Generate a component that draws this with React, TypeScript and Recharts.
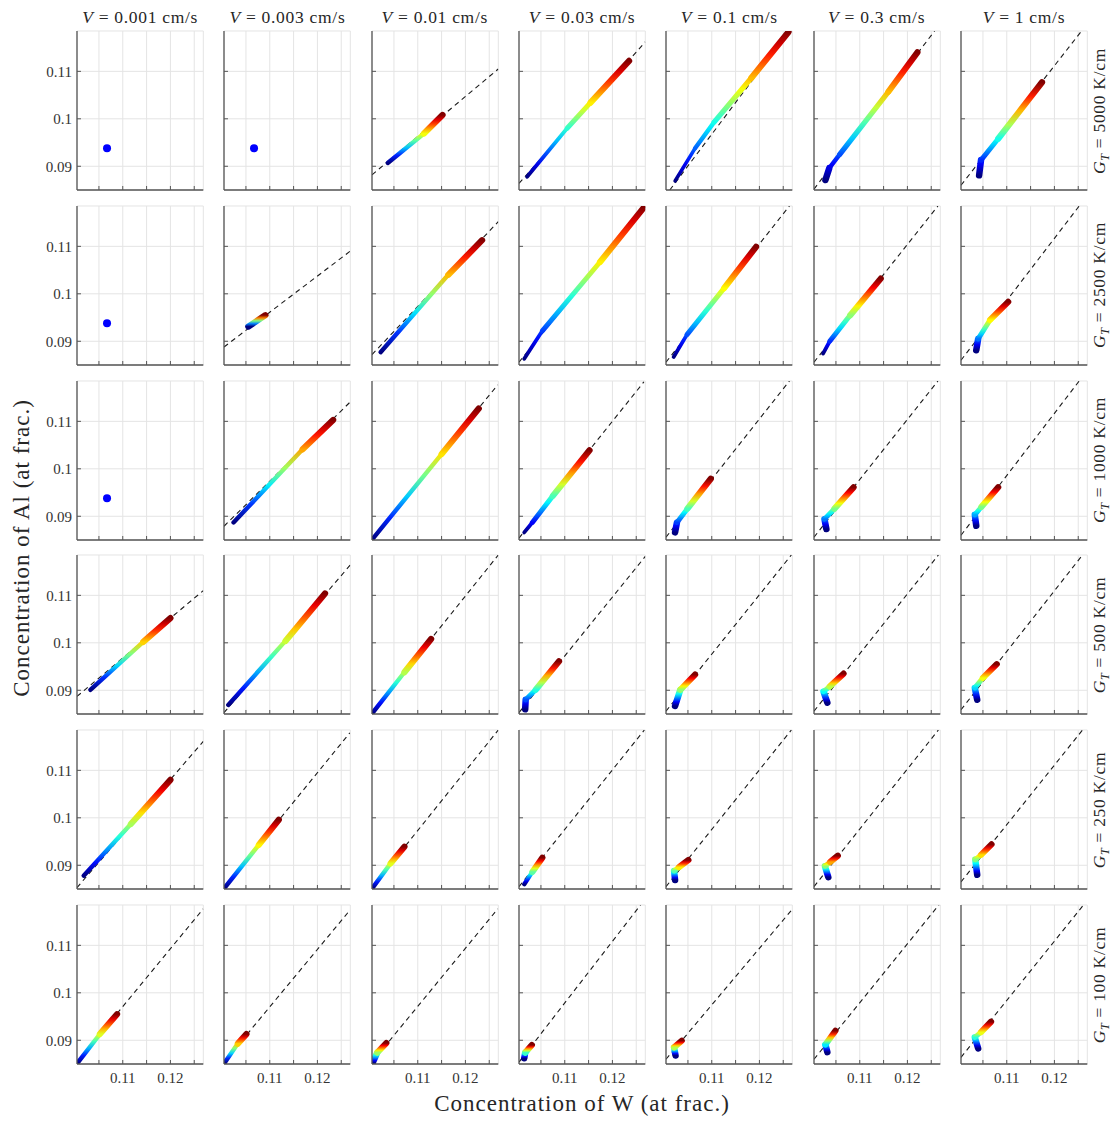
import React from "react";
import { ComposedChart, Line, Scatter, XAxis, YAxis, CartesianGrid } from "recharts";

type Pt = [number, number];

const velocities = ["0.001", "0.003", "0.01", "0.03", "0.1", "0.3", "1"];
const gradients = ["5000", "2500", "1000", "500", "250", "100"];
const xTicks = [0.105, 0.11, 0.115, 0.12, 0.125];
const xTickLabels = ["", "0.11", "", "0.12", ""];
const yTicks = [0.09, 0.1, 0.11];
const yTickLabels = ["0.09", "0.1", "0.11"];
const xDomain: [number, number] = [0.1004, 0.1269];
const yDomain: [number, number] = [0.085, 0.1185];

// dashed fit lines, one per panel (start, end), null where there is none
const fit5000: (Pt[] | null)[] = [
  null,
  null,
  [[0.1004, 0.0882], [0.1269, 0.1105]],
  [[0.1004, 0.0864], [0.1269, 0.1162]],
  [[0.1012, 0.085], [0.1263, 0.1185]],
  [[0.1004, 0.0852], [0.1257, 0.1185]],
  [[0.1004, 0.086], [0.1257, 0.1185]],
];
const fit2500: (Pt[] | null)[] = [
  null,
  [[0.1004, 0.0888], [0.1269, 0.109]],
  [[0.1004, 0.0872], [0.1269, 0.1152]],
  [[0.1004, 0.0856], [0.1269, 0.1183]],
  [[0.1004, 0.0856], [0.1263, 0.1185]],
  [[0.1004, 0.0856], [0.1264, 0.1185]],
  [[0.1004, 0.086], [0.1252, 0.1185]],
];
const fit1000: (Pt[] | null)[] = [
  null,
  [[0.1004, 0.0879], [0.1269, 0.1141]],
  [[0.1004, 0.0854], [0.1268, 0.1177]],
  [[0.1004, 0.0854], [0.1266, 0.1183]],
  [[0.1004, 0.0856], [0.1263, 0.1185]],
  [[0.1004, 0.0856], [0.1264, 0.1185]],
  [[0.1004, 0.086], [0.1252, 0.1185]],
];
const fit500: (Pt[] | null)[] = [
  [[0.1004, 0.0887], [0.1269, 0.111]],
  [[0.1004, 0.0853], [0.1269, 0.1164]],
  [[0.1004, 0.0853], [0.1269, 0.1185]],
  [[0.1004, 0.0853], [0.1269, 0.1182]],
  [[0.1004, 0.0856], [0.1267, 0.1185]],
  [[0.1004, 0.0856], [0.1265, 0.1185]],
  [[0.1004, 0.0859], [0.1259, 0.1185]],
];
const fit250: (Pt[] | null)[] = [
  [[0.1004, 0.0853], [0.1269, 0.1161]],
  [[0.1004, 0.0853], [0.1268, 0.1179]],
  [[0.1004, 0.0853], [0.1269, 0.1185]],
  [[0.1004, 0.0855], [0.1267, 0.1185]],
  [[0.1004, 0.0855], [0.1267, 0.1185]],
  [[0.1004, 0.0855], [0.1265, 0.1185]],
  [[0.1004, 0.0865], [0.1259, 0.1185]],
];
const fit100: (Pt[] | null)[] = [
  [[0.1004, 0.0854], [0.1269, 0.1177]],
  [[0.1004, 0.0854], [0.1269, 0.1175]],
  [[0.1004, 0.0854], [0.1268, 0.1177]],
  [[0.1004, 0.0854], [0.1259, 0.1185]],
  [[0.1004, 0.086], [0.1269, 0.1176]],
  [[0.1004, 0.086], [0.1266, 0.1185]],
  [[0.1004, 0.0864], [0.1261, 0.1185]],
];

// coloured point clouds, traced from the blue end to the red end
const streak5000: Pt[][] = [
  [[0.1067, 0.0938]],
  [[0.1067, 0.0938]],
  [[0.1037, 0.0907], [0.1113, 0.0969], [0.1152, 0.1008]],
  [[0.1021, 0.0878], [0.1105, 0.098], [0.1154, 0.1034], [0.1235, 0.1122]],
  [[0.1023, 0.0869], [0.1065, 0.0938], [0.1105, 0.0993], [0.1183, 0.1086], [0.1261, 0.1183]],
  [[0.1028, 0.0871], [0.1036, 0.0896], [0.1058, 0.0925], [0.116, 0.1057], [0.1221, 0.114]],
  [[0.1042, 0.0881], [0.1046, 0.0913], [0.1082, 0.0958], [0.1174, 0.1077]],
];
const streak2500: Pt[][] = [
  [[0.1067, 0.0938]],
  [[0.1055, 0.0931], [0.1091, 0.0955]],
  [[0.1022, 0.0877], [0.1164, 0.104], [0.1235, 0.1113]],
  [[0.1015, 0.0863], [0.1053, 0.0922], [0.1174, 0.1067], [0.1267, 0.1183]],
  [[0.102, 0.0867], [0.1048, 0.0914], [0.1126, 0.1012], [0.1193, 0.1099]],
  [[0.1023, 0.0874], [0.1037, 0.09], [0.108, 0.0955], [0.1144, 0.1032]],
  [[0.1036, 0.0881], [0.104, 0.0905], [0.1065, 0.0945], [0.1103, 0.0983]],
];
const streak1000: Pt[][] = [
  [[0.1067, 0.0938]],
  [[0.1024, 0.0887], [0.1169, 0.1041], [0.1233, 0.1103]],
  [[0.1005, 0.0852], [0.115, 0.1031], [0.1228, 0.1127]],
  [[0.1015, 0.0866], [0.1032, 0.0887], [0.1075, 0.0943], [0.1152, 0.1039]],
  [[0.1023, 0.0866], [0.1027, 0.0887], [0.1049, 0.0916], [0.1098, 0.0979]],
  [[0.103, 0.0873], [0.1026, 0.0894], [0.1047, 0.0916], [0.1087, 0.0961]],
  [[0.1036, 0.088], [0.1033, 0.0903], [0.1047, 0.092], [0.1082, 0.0961]],
];
const streak500: Pt[][] = [
  [[0.1032, 0.0901], [0.1143, 0.1002], [0.12, 0.1052]],
  [[0.1013, 0.0869], [0.1133, 0.1004], [0.1216, 0.1104]],
  [[0.1005, 0.0852], [0.1072, 0.0938], [0.1128, 0.1008]],
  [[0.1017, 0.086], [0.1018, 0.088], [0.1039, 0.0901], [0.1088, 0.0961]],
  [[0.1023, 0.0867], [0.1034, 0.0901], [0.1065, 0.0933]],
  [[0.1032, 0.0874], [0.1024, 0.0897], [0.1037, 0.0908], [0.1066, 0.0935]],
  [[0.1038, 0.088], [0.1033, 0.0905], [0.105, 0.0926], [0.1079, 0.0955]],
];
const streak250: Pt[][] = [
  [[0.1018, 0.0878], [0.1117, 0.0987], [0.12, 0.108]],
  [[0.1005, 0.0852], [0.1077, 0.0943], [0.1119, 0.0996]],
  [[0.1005, 0.0852], [0.1043, 0.0904], [0.1072, 0.0939]],
  [[0.1015, 0.086], [0.1032, 0.0886], [0.1053, 0.0916]],
  [[0.1023, 0.0869], [0.1021, 0.0888], [0.1031, 0.0896], [0.1051, 0.0911]],
  [[0.1034, 0.0875], [0.1027, 0.0898], [0.1038, 0.0907], [0.1054, 0.092]],
  [[0.1038, 0.088], [0.1034, 0.0912], [0.1046, 0.0922], [0.1068, 0.0944]],
];
const streak100: Pt[][] = [
  [[0.1005, 0.0852], [0.1052, 0.0913], [0.1088, 0.0955]],
  [[0.1005, 0.0852], [0.1033, 0.0893], [0.1051, 0.0913]],
  [[0.1005, 0.0852], [0.1015, 0.0874], [0.1034, 0.0894]],
  [[0.1015, 0.0862], [0.1017, 0.0874], [0.1031, 0.089]],
  [[0.1024, 0.0868], [0.1021, 0.0885], [0.1037, 0.0899]],
  [[0.1032, 0.0875], [0.1028, 0.0891], [0.1049, 0.092]],
  [[0.104, 0.0883], [0.1033, 0.0906], [0.1046, 0.0917], [0.1067, 0.0939]],
];

const fitRows = [fit5000, fit2500, fit1000, fit500, fit250, fit100];
const streakRows = [streak5000, streak2500, streak1000, streak500, streak250, streak100];

// layout (pixels)
const PLOT_L = 77;
const COL_STEP = 147.3;
const PLOT_T = 31;
const ROW_STEP = 174.8;
const PW = 126.3;
const PH = 159;
const AX_W = 40;
const AX_H = 25;
const M = 6;

const FONT = '"Liberation Serif", "DejaVu Serif", serif';
const AXIS = "#555";

function jet(t: number) {
  const c = (v: number) => Math.round(255 * Math.max(0, Math.min(1, v)));
  return `rgb(${c(1.5 - Math.abs(4 * t - 3))},${c(1.5 - Math.abs(4 * t - 2))},${c(1.5 - Math.abs(4 * t - 1))})`;
}

function Panel({ r, c }: { r: number; c: number }) {
  const fit = fitRows[r][c];
  const streak = streakRows[r][c];
  const lastCol = c === velocities.length - 1;
  const firstRow = r === 0;
  const bottomRow = r === gradients.length - 1;
  const yLo = streak[0][1];
  const yHi = streak[streak.length - 1][1];
  const nSeg = streak.length - 1;

  const segs = [];
  for (let i = 0; i < nSeg; i++) {
    const a = streak[i];
    const b = streak[i + 1];
    const t0 = (a[1] - yLo) / (yHi - yLo);
    const t1 = (b[1] - yLo) / (yHi - yLo);
    const steep = Math.abs(b[0] - a[0]) < 0.5 * (b[1] - a[1]);
    // blobs at the blue end are wide, the rest widens towards the red end
    const w = steep && i === 0 ? 6.5 : 2.6 + (3.6 * (i + 1)) / nSeg;
    segs.push({ id: `g${r}-${c}-${i}`, t0, t1, w, data: [{ x: a[0], y: a[1] }, { x: b[0], y: b[1] }] });
  }

  const tickStyle = { fontSize: 15, fill: "#333", fontFamily: FONT };

  return (
    <div style={{ position: "absolute", left: PLOT_L + COL_STEP * c - AX_W, top: PLOT_T + ROW_STEP * r - M }}>
      <ComposedChart
        width={AX_W + PW + M}
        height={M + PH + AX_H}
        margin={{ top: M, right: M, left: 0, bottom: 0 }}
        style={{ fontFamily: FONT }}
      >
        <defs>
          {segs.map((s) => (
            <linearGradient key={s.id} id={s.id} x1="0" y1="1" x2="0" y2="0">
              {[0, 0.25, 0.5, 0.75, 1].map((k) => (
                <stop key={k} offset={k} stopColor={jet(s.t0 + (s.t1 - s.t0) * k)} />
              ))}
            </linearGradient>
          ))}
        </defs>
        <CartesianGrid stroke="#e4e4e4" strokeWidth={1} />
        <XAxis
          type="number"
          dataKey="x"
          domain={xDomain}
          allowDataOverflow
          ticks={xTicks}
          height={AX_H}
          tickSize={-4}
          tickMargin={12}
          stroke={AXIS}
          axisLine={{ stroke: AXIS, strokeWidth: 1.3 }}
          tick={tickStyle}
          tickFormatter={(v: number) => (bottomRow ? xTickLabels[xTicks.indexOf(v)] ?? "" : "")}
        />
        <XAxis
          xAxisId="top"
          orientation="top"
          type="number"
          domain={xDomain}
          allowDataOverflow
          ticks={xTicks}
          height={0}
          tickSize={-4}
          tick={false}
          hide={!firstRow}
          stroke={AXIS}
          axisLine={{ stroke: AXIS, strokeWidth: 1.3 }}
        />
        <YAxis
          type="number"
          domain={yDomain}
          allowDataOverflow
          ticks={yTicks}
          width={AX_W}
          tickSize={-4}
          tickMargin={9}
          stroke={AXIS}
          axisLine={{ stroke: AXIS, strokeWidth: 1.3 }}
          tick={tickStyle}
          tickFormatter={(v: number) => (c === 0 ? yTickLabels[yTicks.indexOf(v)] ?? "" : "")}
        />
        <YAxis
          yAxisId="right"
          orientation="right"
          type="number"
          domain={yDomain}
          allowDataOverflow
          ticks={yTicks}
          width={0}
          tickSize={-4}
          tick={false}
          hide={!lastCol}
          stroke={AXIS}
          axisLine={{ stroke: AXIS, strokeWidth: 1.3 }}
        />
        {fit && (
          <Line
            data={fit.map(([x, y]) => ({ x, y }))}
            dataKey="y"
            type="linear"
            stroke="#1a1a1a"
            strokeWidth={1.1}
            strokeDasharray="5 4"
            dot={false}
            activeDot={false}
            isAnimationActive={false}
          />
        )}
        {segs.map((s) => (
          <Line
            key={s.id}
            data={s.data}
            dataKey="y"
            type="linear"
            stroke={`url(#${s.id})`}
            strokeWidth={s.w}
            strokeLinecap="round"
            dot={false}
            activeDot={false}
            isAnimationActive={false}
          />
        ))}
        {streak.length === 1 && (
          <Scatter
            data={streak.map(([x, y]) => ({ x, y }))}
            dataKey="y"
            isAnimationActive={false}
            shape={(p: any) => <circle cx={p.cx} cy={p.cy} r={4} fill="#0000ff" />}
          />
        )}
      </ComposedChart>
    </div>
  );
}

export default function App() {
  return (
    <div
      style={{
        position: "absolute",
        left: 0,
        top: 0,
        width: 1117,
        height: 1121,
        background: "#fff",
        fontFamily: FONT,
        color: "#262626",
        overflow: "hidden",
      }}
    >
      {gradients.map((g, r) =>
        velocities.map((v, c) => <Panel key={`${r}-${c}`} r={r} c={c} />)
      )}

      {velocities.map((v, c) => (
        <div
          key={v}
          style={{
            position: "absolute",
            left: PLOT_L + COL_STEP * c + PW / 2,
            top: 17,
            transform: "translate(-50%, -50%)",
            whiteSpace: "nowrap",
            fontSize: 17.5,
            letterSpacing: 0.7,
          }}
        >
          <i>V</i>&nbsp;=&nbsp;{v} cm/s
        </div>
      ))}

      {gradients.map((g, r) => (
        <div
          key={g}
          style={{
            position: "absolute",
            left: 1101,
            top: PLOT_T + ROW_STEP * r + PH / 2,
            transform: "translate(-50%, -50%) rotate(-90deg)",
            whiteSpace: "nowrap",
            fontSize: 17.5,
            letterSpacing: 0.7,
          }}
        >
          <i>G</i>
          <sub style={{ fontSize: 12 }}>
            <i>T</i>
          </sub>
          &nbsp;=&nbsp;{g} K/cm
        </div>
      ))}

      <div
        style={{
          position: "absolute",
          left: 22,
          top: 548,
          transform: "translate(-50%, -50%) rotate(-90deg)",
          whiteSpace: "nowrap",
          fontSize: 23,
          letterSpacing: 1,
        }}
      >
        Concentration of Al (at frac.)
      </div>
      <div
        style={{
          position: "absolute",
          left: 582,
          top: 1104,
          transform: "translate(-50%, -50%)",
          whiteSpace: "nowrap",
          fontSize: 23,
          letterSpacing: 1,
        }}
      >
        Concentration of W (at frac.)
      </div>
    </div>
  );
}
